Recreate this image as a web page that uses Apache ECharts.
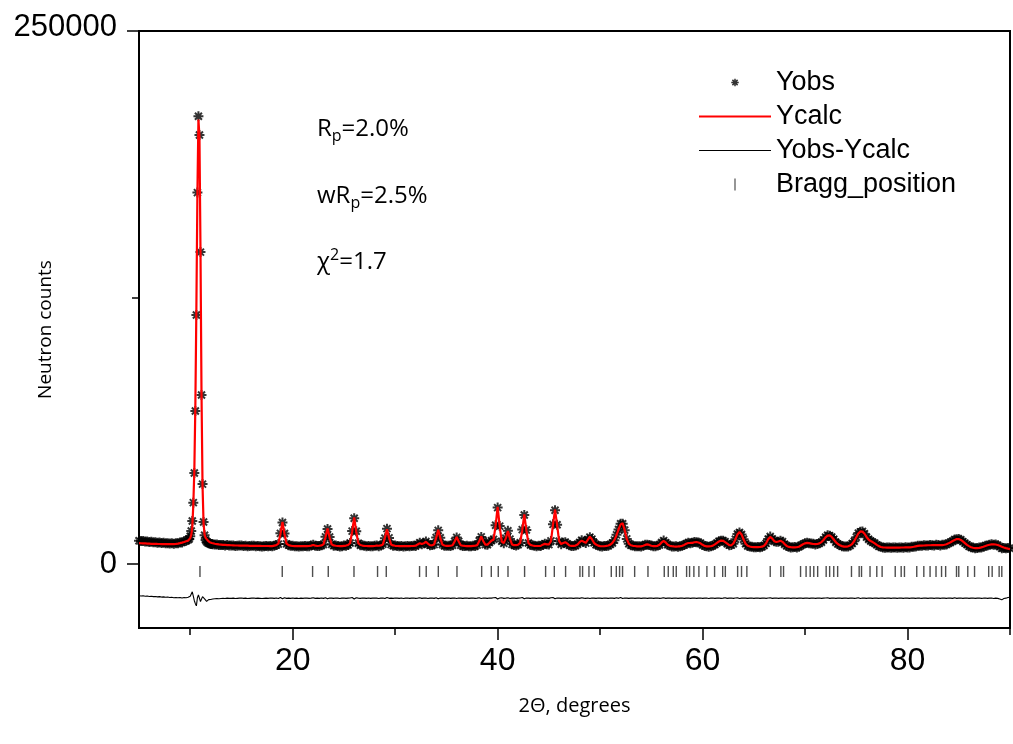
<!DOCTYPE html>
<html>
<head>
<meta charset="utf-8">
<title>Neutron powder diffraction refinement</title>
<script src="https://cdn.jsdelivr.net/npm/echarts@6.0.0/dist/echarts.min.js"></script>
<style>
html, body { margin: 0; padding: 0; background: #ffffff; }
#chart { width: 1013px; height: 744px; }
</style>
</head>
<body>
<div id="chart"></div>
<script>
// The scan is stored in three pieces: 0.2 deg steps, a 0.1 deg stretch across
// the strong low-angle reflection, then 0.2 deg steps again up to 90 deg.
const scanLow = { start: 5.0, step: 0.2 };
const scanPeak = { start: 9.9, step: 0.1 };
const scanHigh = { start: 12.2, step: 0.2 };

// Calculated profile (counts) and observed - calculated (counts)
const calcLow = [9800, 9750, 9700, 9650, 9600, 9550, 9500, 9480, 9450, 9420, 9400, 9380, 9350, 9330, 9300,
  9300, 9300, 9350, 9450, 9600, 9800, 10050, 10350, 10700, 11000];
const diffLow = [1100, 1000, 1100, 900, 1000, 800, 900, 700, 800, 600, 700, 500, 600, 400, 500,
  300, 400, 200, 300, 200, 300, 100, 300, 200, 400];

const calcPeak = [11200, 12100, 13700, 17200, 27800, 43900, 74400, 120400, 174000, 208500, 200600, 147900,
  80100, 36800, 19200, 13800, 12300, 12000, 11100, 10500, 10200, 10050, 9850];
const diffPeak = [600, 900, 1800, 3000, 1000, -1200, -2600, -3600, 200, 1500, 600, -1600,
  -800, 700, 500, -300, -1000, -1500, -1000, -700, -600, -600, -500];

const calcHigh = [
  9700, 9500, 9350, 9200,
  9100, 9000, 8950, 8900, 8850,
  8800, 8750, 8700, 8700, 8650,
  8650, 8600, 8600, 8600, 8550,
  8550, 8500, 8500, 8500, 8500,
  8450, 8450, 8450, 8450, 8400,
  8400, 8630, 8860, 9540, 14100,
  19800, 14100, 9540, 8860, 8630,
  8450, 8400, 8400, 8400, 8400,
  8400, 8400, 8400, 8450, 8650,
  8900, 8650, 8450, 8570, 8730,
  9230, 12550, 16700, 12550, 9230,
  8730, 8570, 8450, 8400, 8400,
  8540, 8670, 8940, 9750, 15150,
  21900, 15150, 9750, 8940, 8670,
  8540, 8450, 8400, 8400, 8400,
  8450, 8700, 8560, 8720, 9190,
  12350, 16300, 12350, 9190, 8720,
  8560, 8450, 8400, 8400, 8400,
  8400, 8400, 8400, 8450, 8500,
  8570, 9190, 9780, 9410, 9730,
  10450, 9590, 8810, 8790, 9210,
  12250, 16100, 12250, 9170, 8710,
  8550, 8490, 8570, 8830, 10550,
  12700, 10550, 8830, 8570, 8490,
  8420, 8400, 8400, 8490, 8580,
  8850, 10650, 12920, 10690, 9120,
  9120, 10010, 10980, 11380, 17870,
  26860, 17690, 10500, 9810, 12170,
  15420, 11900, 9230, 8850, 8840,
  9070, 9890, 15850, 23300, 15850,
  9890, 9000, 8700, 8550, 8450,
  8450, 8500, 9080, 9460, 9250,
  9220, 10660, 18320, 25520, 18350,
  10700, 9390, 9830, 10270, 9570,
  8710, 8510, 8510, 8650, 9150,
  10270, 10980, 10440, 9910, 11380,
  12820, 11600, 9960, 9120, 8630,
  8390, 8350, 8350, 8500, 8700,
  9100, 9900, 11300, 13500, 16300,
  18600, 19100, 15800, 11800, 9600,
  8800, 8550, 8450, 8300, 8300,
  8300, 8570, 8960, 9200, 8960,
  8570, 8400, 8375, 8550, 9050,
  10125, 10800, 10125, 9050, 8550,
  8375, 8250, 8200, 8245, 8320,
  8530, 8970, 9520, 9860, 9900,
  9950, 10210, 10320, 10100, 9700,
  9000, 8500, 8300, 8250, 8350,
  8650, 9200, 9900, 10600, 11000,
  10900, 10300, 9600, 8850, 8790,
  9630, 11500, 13880, 15000, 13880,
  11500, 9540, 8560, 8210, 8000,
  7950, 7900, 7900, 8000, 8135,
  8605, 9780, 11600, 12700, 11900,
  10700, 10300, 10600, 10900, 10400,
  9400, 8500, 8050, 7900, 7850,
  7850, 7900, 8100, 8700, 9300,
  9700, 9900, 9800, 9600, 9400,
  9300, 9400, 9700, 10300, 11300,
  12500, 13300, 13400, 12700, 11500,
  10300, 9400, 8800, 8400, 8200,
  8150, 8300, 8700, 9500, 10800,
  12600, 14300, 15300, 15200, 14200,
  12700, 11500, 10800, 10300, 9700,
  9000, 8400, 8000, 7800, 7750,
  7700, 7700, 7700, 7700, 7700,
  7700, 7700, 7750, 7750, 7800,
  7800, 7850, 7950, 8100, 8300,
  8500, 8600, 8650, 8700, 8750,
  8800, 8800, 8850, 8850, 8900,
  8900, 8850, 8900, 9050, 9300,
  9700, 10200, 10800, 11300, 11700,
  11700, 11300, 10600, 9800, 9000,
  8400, 7900, 7650, 7500, 7500,
  7600, 7800, 8100, 8450, 8800,
  9050, 9200, 9250, 9150, 8900,
  8550, 8150, 7750, 7450, 7200,
  7000
];
const diffHigh = [
  -400, -300, -200, -300,
  -200, -100, -200, 0, -100,
  -100, 0, -200, -100, 0,
  100, -100, 0, -200, -100,
  0, 100, -100, 0, -100,
  -200, -100, 0, -100, 100,
  0, -100, 100, -200, 300,
  -300, 200, -100, 0, -100,
  100, -100, 0, -200, 0,
  -100, 100, 0, -100, 0,
  200, -100, 0, -100, 100,
  -100, 200, -300, 100, 0,
  -100, 100, 0, -200, 0,
  100, -100, 0, 100, 300,
  -400, 200, 0, -100, 100,
  0, -100, 100, -100, 0,
  100, 0, -200, 0, 100,
  -200, 300, -100, 0, -100,
  100, 0, -100, 100, -200,
  0, 100, -100, 0, 100,
  -100, 0, 200, -100, 0,
  100, -200, 0, 100, -100,
  200, -300, 100, 0, -100,
  0, 100, -100, 0, 100,
  -200, 100, 0, -100, 0,
  100, -100, 0, 100, -100,
  0, 200, -200, 100, 0,
  -100, 100, 0, 200, 300,
  -400, 100, 200, -100, 0,
  200, -200, 0, 100, -100,
  0, 100, 300, -300, 100,
  0, -100, 100, 0, -100,
  100, 0, -100, 100, 0,
  -100, 200, 300, -300, 100,
  0, -100, 100, 0, -100,
  100, 0, -100, 0, 100,
  -100, 200, 0, -100, 100,
  -200, 100, 0, -100, 100,
  0, -100, 100, 0, -100,
  100, 0, -100, 200, -100,
  300, -200, 100, 0, -100,
  0, 100, -100, 0, 100,
  -100, 0, 100, -100, 0,
  100, -100, 0, 100, -100,
  0, 200, -100, 0, 100,
  -100, 0, 100, -100, 0,
  100, -100, 0, 100, -100,
  0, 100, -100, 0, 100,
  -100, 0, 100, -200, 0,
  100, -100, 0, 100, -100,
  0, 200, -100, 0, 100,
  -100, 100, 200, -200, 0,
  100, 0, -100, 0, 100,
  -100, 0, 100, -100, 0,
  100, -100, 100, 200, -100,
  0, 100, -100, 0, 100,
  -100, 0, 100, -100, 0,
  100, -100, 0, 100, -100,
  0, 100, -100, 0, 100,
  -100, 0, 100, -100, 0,
  100, 200, -100, 0, 100,
  -100, 0, 100, -100, 0,
  100, -100, 0, 100, -100,
  0, 200, -200, 100, 0,
  -100, 100, 0, -100, 100,
  0, -100, 100, 0, -100,
  100, 0, -100, 100, 0,
  -100, 100, 0, -100, 100,
  0, -100, 100, 0, -100,
  100, 0, -100, 100, 0,
  -100, 100, 0, -100, 100,
  0, -100, 100, 0, -100,
  100, 0, -100, 200, -100,
  0, 100, -100, 0, 100,
  -100, 0, 100, -100, 0,
  100, -100, 0, 100, -100,
  0, 100, -200, 0, -100,
  -400, -800, -200, 0, 300,
  400
];

// Reflection positions (deg 2-theta)
const braggPositions = [10.95, 18.98, 21.94, 23.47, 25.98, 28.28, 29.13, 32.38, 33.03, 34.21, 36.03,
  38.44, 39.38, 40.06, 41.01, 42.63, 44.68, 45.53, 46.63, 48.03, 48.29, 48.91, 49.43, 51.09, 51.58,
  51.90, 52.19, 53.37, 54.67, 56.26, 56.65, 57.14, 57.43, 58.44, 58.73, 59.15, 59.64, 60.42, 61.17,
  61.96, 62.22, 63.42, 63.80, 64.32, 66.60, 67.64, 67.90, 69.56, 70.10, 70.50, 70.85, 71.23, 72.06,
  72.40, 72.80, 73.18, 74.53, 75.28, 75.51, 76.34, 77.00, 77.52, 78.80, 79.38, 79.70, 80.90, 81.59,
  82.20, 82.78, 83.32, 83.72, 84.78, 85.00, 85.88, 86.54, 87.92, 88.26, 88.94, 89.20];

const xMajorTicks = [20, 40, 60, 80];
const xMinorTicks = [10, 30, 50, 70, 90];
const yMajorTicks = [0, 250000];
const yMinorTicks = [125000];

// Vertical placement of the difference curve and the reflection markers
const DIFF_OFFSET = -16000;
const BRAGG_LEVEL = -3500;

const pattern = { angle: [], calc: [], obs: [], diff: [] };
function addScan(seg, calc, diff) {
  calc.forEach(function (c, i) {
    const t = +(seg.start + i * seg.step).toFixed(2);
    pattern.angle.push(t);
    pattern.calc.push(c);
    pattern.obs.push(c + diff[i]);
    pattern.diff.push(diff[i]);
  });
}
addScan(scanLow, calcLow, diffLow);
addScan(scanPeak, calcPeak, diffPeak);
addScan(scanHigh, calcHigh, diffHigh);

const obsData = pattern.angle.map(function (t, i) { return [t, pattern.obs[i]]; });
const calcData = pattern.angle.map(function (t, i) { return [t, pattern.calc[i]]; });
const diffData = pattern.angle.map(function (t, i) { return [t, pattern.diff[i] + DIFF_OFFSET]; });
const braggData = braggPositions.map(function (p) { return [p, BRAGG_LEVEL]; });

// Eight-armed star used for the observed points
const STAR_ARMS = 'M-1,-5L1,-5L1,5L-1,5Z M-5,-1L5,-1L5,1L-5,1Z ' +
  'M-2.8,-4.2L4.2,2.8L2.8,4.2L-4.2,-2.8Z M2.8,-4.2L4.2,-2.8L-2.8,4.2L-4.2,2.8Z';
const ASTERISK = 'path://' + STAR_ARMS;
// Same star inside a wider empty frame, so the legend key stays small
const ASTERISK_KEY = 'path://M-8,-8L-8,-8Z M8,8L8,8Z ' + STAR_ARMS;
const TICK_BAR = 'path://M0,0L1,0L1,10L0,10Z';
const THICK_LINE = 'path://M0,0L72,0L72,2L0,2Z';
const THIN_LINE = 'path://M0,0L72,0L72,1.2L0,1.2Z';

const SANS = 'Liberation Sans, Arial, sans-serif';
const BODY = 'Open Sans, Lato, sans-serif';

const chart = echarts.init(document.getElementById('chart'), null, { renderer: 'canvas' });

const axisBlack = { color: '#000', width: 2 };

chart.setOption({
  animation: false,
  backgroundColor: '#ffffff',
  grid: {
    left: 139, top: 31, width: 871, height: 597,
    containLabel: false, outerBoundsMode: 'none',
    show: true, borderColor: '#000', borderWidth: 2, backgroundColor: 'transparent'
  },
  legend: {
    data: [
      { name: 'Yobs', icon: ASTERISK_KEY },
      { name: 'Ycalc', icon: THICK_LINE },
      { name: 'Yobs-Ycalc', icon: THIN_LINE },
      { name: 'Bragg_position', icon: TICK_BAR }
    ],
    orient: 'vertical',
    left: 699, top: 69, padding: 0,
    itemWidth: 72, itemHeight: 12, itemGap: 7,
    selectedMode: false,
    textStyle: { fontFamily: SANS, fontSize: 27, color: '#000' }
  },
  xAxis: [
    {
      type: 'value', min: 5, max: 90,
      name: '2\u0398, degrees', nameLocation: 'middle', nameGap: 68, nameMoveOverlap: false,
      nameTextStyle: { fontFamily: BODY, fontSize: 20, color: '#000' },
      axisLine: { onZero: false, lineStyle: axisBlack },
      axisTick: { customValues: xMajorTicks, length: 12, lineStyle: { color: '#000', width: 1.5 } },
      axisLabel: { customValues: xMajorTicks, margin: 17, fontFamily: SANS, fontSize: 32, color: '#000' },
      splitLine: { show: false }
    },
    {
      type: 'value', min: 5, max: 90, position: 'bottom',
      axisLine: { show: false, onZero: false },
      axisTick: { customValues: xMinorTicks, length: 7, lineStyle: { color: '#000', width: 1.5 } },
      axisLabel: { show: false },
      splitLine: { show: false }
    }
  ],
  yAxis: [
    {
      type: 'value', min: -30000, max: 250000,
      name: 'Neutron counts', nameLocation: 'middle', nameGap: 84, nameMoveOverlap: false,
      nameTextStyle: { fontFamily: BODY, fontSize: 19, color: '#000' },
      axisLine: { onZero: false, lineStyle: axisBlack },
      axisTick: { customValues: yMajorTicks, length: 12, lineStyle: { color: '#000', width: 1.5 } },
      axisLabel: {
        customValues: yMajorTicks, margin: 22, color: '#000',
        formatter: function (v) { return v === 250000 ? '{top|' + v + '}' : '{base|' + v + '}'; },
        rich: {
          top: { fontFamily: SANS, fontSize: 31, color: '#000', padding: [0, 0, 8, 0] },
          base: { fontFamily: SANS, fontSize: 31, color: '#000' }
        }
      },
      splitLine: { show: false }
    },
    {
      type: 'value', min: -30000, max: 250000, position: 'left',
      axisLine: { show: false, onZero: false },
      axisTick: { customValues: yMinorTicks, length: 7, lineStyle: { color: '#000', width: 1.5 } },
      axisLabel: { show: false },
      splitLine: { show: false }
    }
  ],
  graphic: [
    {
      type: 'text', x: 317, y: 129,
      style: {
        text: '{m|R}{s|p}{m|=2.0%}', verticalAlign: 'middle',
        rich: {
          m: { fontFamily: BODY, fontSize: 24, lineHeight: 30, fill: '#000' },
          s: { fontFamily: BODY, fontSize: 16, lineHeight: 16, verticalAlign: 'bottom', fill: '#000' }
        }
      }
    },
    {
      type: 'text', x: 317, y: 196,
      style: {
        text: '{m|wR}{s|p}{m|=2.5%}', verticalAlign: 'middle',
        rich: {
          m: { fontFamily: BODY, fontSize: 24, lineHeight: 30, fill: '#000' },
          s: { fontFamily: BODY, fontSize: 16, lineHeight: 16, verticalAlign: 'bottom', fill: '#000' }
        }
      }
    },
    {
      type: 'text', x: 317, y: 262,
      style: {
        text: '{m|\u03C7}{s|2}{m|=1.7}', verticalAlign: 'middle',
        rich: {
          m: { fontFamily: BODY, fontSize: 24, lineHeight: 30, fill: '#000' },
          s: { fontFamily: BODY, fontSize: 16, lineHeight: 16, verticalAlign: 'top', fill: '#000' }
        }
      }
    }
  ],
  series: [
    {
      name: 'Yobs', type: 'scatter', data: obsData,
      symbol: ASTERISK, symbolSize: 10,
      itemStyle: { color: '#000' },
      silent: true, z: 2
    },
    {
      name: 'Ycalc', type: 'line', data: calcData,
      symbol: 'none', lineStyle: { color: '#ff0000', width: 2.2 },
      itemStyle: { color: '#ff0000' },
      silent: true, z: 4
    },
    {
      name: 'Yobs-Ycalc', type: 'line', data: diffData,
      symbol: 'none', lineStyle: { color: '#000', width: 1.1 },
      itemStyle: { color: '#000' },
      silent: true, z: 3
    },
    {
      name: 'Bragg_position', type: 'scatter', data: braggData,
      symbol: 'rect', symbolSize: [1.4, 11],
      itemStyle: { color: '#222' },
      silent: true, z: 3
    }
  ]
});
</script>
</body>
</html>
